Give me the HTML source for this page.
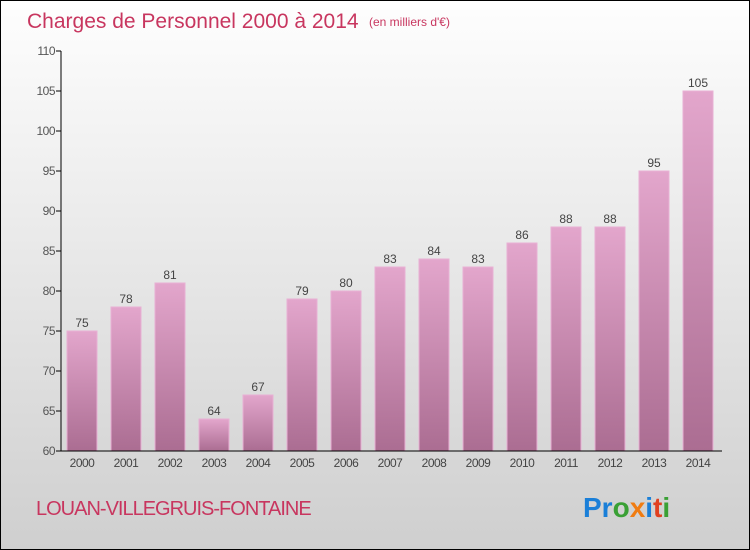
<!DOCTYPE html>
<html><head><meta charset="utf-8"><style>
body{margin:0}
#c{position:relative;width:748px;height:548px;border:1px solid #000;background:linear-gradient(#fefefe,#cfcfcf);font-family:"Liberation Sans",sans-serif;overflow:hidden}
</style></head><body>
<div id="c">
<svg width="748" height="548">
<defs><linearGradient id="bg" x1="0" y1="0" x2="0" y2="1"><stop offset="0" stop-color="#e3a6cc"/><stop offset="1" stop-color="#ab6d92"/></linearGradient></defs>
<text x="26" y="27" font-size="21" fill="#c8365f">Charges de Personnel 2000 à 2014</text>
<text x="368" y="25" font-size="12" fill="#c8365f">(en milliers d'€)</text>
<g id="plot"></g>
<text x="35" y="514" font-size="20" fill="#c8365f" letter-spacing="-1">LOUAN-VILLEGRUIS-FONTAINE</text>
<text x="582" y="516" font-size="28" font-weight="bold"><tspan fill="#1a7fd8">Pr</tspan><tspan fill="#3aa035">o</tspan><tspan fill="#f07c12">x</tspan><tspan fill="#1a7fd8">i</tspan><tspan fill="#e04020">t</tspan><tspan fill="#3aa035">i</tspan></text>
</svg></div>
<script>
const years=["2000","2001","2002","2003","2004","2005","2006","2007","2008","2009","2010","2011","2012","2013","2014"];
const values=[75,78,81,64,67,79,80,83,84,83,86,88,88,95,105];
const yTicks=[60,65,70,75,80,85,90,95,100,105,110];
const ns="http://www.w3.org/2000/svg",g=document.getElementById("plot");
const y=v=>450-(v-60)*8, x=i=>81+i*44;
function mk(t,a){const e=document.createElementNS(ns,t);for(const k in a)e.setAttribute(k,a[k]);g.appendChild(e);return e;}
yTicks.forEach(t=>{
const l=mk("line",{x1:55,x2:60,y1:y(t),y2:y(t),stroke:"#000"});


const tx=mk("text",{x:54,y:y(t)+4,"font-size":12,"text-anchor":"end",fill:"#555","letter-spacing":"-0.5"});tx.textContent=t;


});
values.forEach((v,i)=>{
const r=mk("rect",{x:x(i)-15,y:y(v),width:30,height:450-y(v),fill:"url(#bg)",stroke:"#e8b0d4","stroke-width":1});


const vt=mk("text",{x:x(i),y:y(v)-4,"font-size":12,"text-anchor":"middle",fill:"#444"});vt.textContent=v;


const xt=mk("text",{x:x(i),y:466,"font-size":12,"text-anchor":"middle",fill:"#444","letter-spacing":"-0.5"});xt.textContent=years[i];


});
const ya=mk("line",{x1:60,x2:60,y1:50,y2:450,stroke:"#000"});


const xa=mk("line",{x1:60,x2:721,y1:450,y2:450,stroke:"#000"});


</script>
</body></html>
